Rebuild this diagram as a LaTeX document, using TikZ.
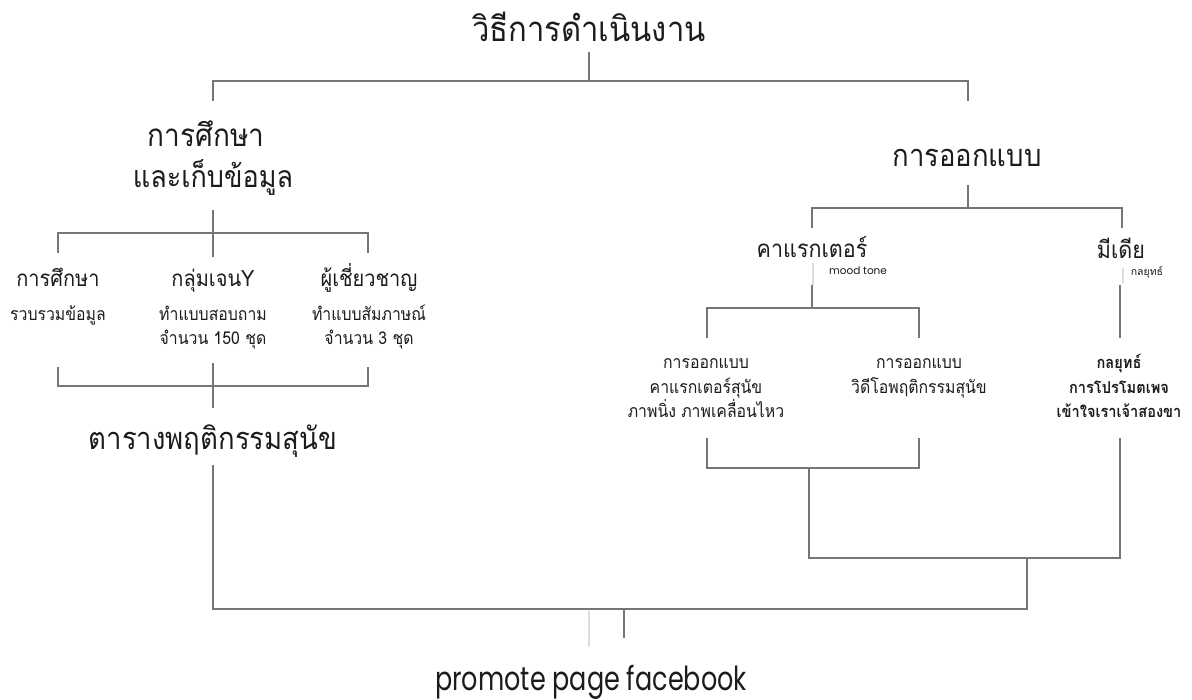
\documentclass[tikz,border=0pt]{standalone}
\usepackage{graphicx}
\usepackage{fontspec}
\newfontfamily\thai[Script=Thai]{Loma}
\newfontfamily\latin{Poppins}
\newcommand{\stT}[1]{\scalebox{1}[1.12]{#1}}
\newcommand{\stL}[1]{\scalebox{1}[1.3]{#1}}
\definecolor{txt}{HTML}{1C1C1C}
\definecolor{lnc}{HTML}{767676}
\definecolor{faintc}{HTML}{DCDCDC}
\tikzset{
  lbl/.style={inner sep=0pt, anchor=base, text=txt},
  fT/.style={lbl, font=\thai\fontsize{31}{36}\selectfont},
  fSa/.style={lbl, font=\thai\fontsize{28}{34}\selectfont},
  fSb/.style={lbl, font=\thai\fontsize{27}{32}\selectfont},
  fS/.style={lbl, font=\thai\fontsize{27.5}{32}\selectfont},
  fM/.style={lbl, font=\thai\fontsize{20}{24}\selectfont},
  fN/.style={lbl, font=\thai\fontsize{21.5}{25}\selectfont},
  fs/.style={lbl, font=\thai\fontsize{15.8}{19}\selectfont},
  fsb/.style={lbl, font=\thai\bfseries\fontsize{14.6}{17}\selectfont},
  ft/.style={lbl, font=\thai\fontsize{10.5}{12}\selectfont},
  fl/.style={lbl, font=\latin\fontsize{25.5}{30}\selectfont},
  flt/.style={lbl, font=\latin\fontsize{10.5}{12}\selectfont},
  ln/.style={draw=lnc, line width=1.1pt},
  faint/.style={draw=faintc, line width=1.1pt}
}
\begin{document}
\begin{tikzpicture}[x=1pt,y=-1pt]
\useasboundingbox[fill=white] (0,0) rectangle (1192,700);
% texts
\node[fT] (title) at (589,42) {\stT{วิธีการดำเนินงาน}};
\node[fSa] (s1a) at (206,147) {\stT{การศึกษา}};
\node[fSb] (s1b) at (213,188) {\stT{และเก็บข้อมูล}};
\node[fS] (s2) at (967,167) {\stT{การออกแบบ}};
\node[fM] (r1) at (58,287) {\stT{การศึกษา}};
\node[fM] (r2) at (213,287) {\stT{กลุ่มเจนY}};
\node[fM] (r3) at (369,287) {\stT{ผู้เชี่ยวชาญ}};
\node[fs] (r1b) at (58,321) {\stT{รวบรวมข้อมูล}};
\node[fs] (r2b) at (213,321) {\stT{ทำแบบสอบถาม}};
\node[fs] (r3b) at (369,321) {\stT{ทำแบบสัมภาษณ์}};
\node[fs] (r2c) at (213,345) {\stT{จำนวน 150 ชุด}};
\node[fs] (r3c) at (369,345) {\stT{จำนวน 3 ชุด}};
\node[fS] (tab) at (213,450) {\stT{ตารางพฤติกรรมสุนัข}};
\node[fN] (chr) at (812,258) {\stT{คาแรกเตอร์}};
\node[flt] (mood) at (858,275) {mood tone};
\node[fN] (med) at (1121,259) {\stT{มีเดีย}};
\node[ft] (strat) at (1147,276) {กลยุทธ์};
\node[fs] (d1a) at (706,369) {\stT{การออกแบบ}};
\node[fs] (d1b) at (706,394) {\stT{คาแรกเตอร์สุนัข}};
\node[fs] (d1c) at (706,418) {\stT{ภาพนิ่ง ภาพเคลื่อนไหว}};
\node[fs] (d2a) at (919,369) {\stT{การออกแบบ}};
\node[fs] (d2b) at (919,394) {\stT{วิดีโอพฤติกรรมสุนัข}};
\node[fsb] (d3a) at (1119,369) {\stT{กลยุทธ์}};
\node[fsb] (d3b) at (1119,394) {\stT{การโปรโมตเพจ}};
\node[fsb] (d3c) at (1119,418) {\stT{เข้าใจเราเจ้าสองขา}};
\node[fl] (prom) at (591,690) {\stL{promote page facebook}};
% junction coordinates
\coordinate (t0) at (589,52);
\coordinate (t1) at (589,81);
\coordinate (tL) at (213,81);
\coordinate (tR) at (968,81);
\coordinate (tLe) at (213,101);
\coordinate (tRe) at (968,101);
\coordinate (a0) at (213,210);
\coordinate (a1) at (213,257);
\coordinate (aL) at (58,233);
\coordinate (aR) at (368,233);
\coordinate (aLe) at (58,253);
\coordinate (aRe) at (368,253);
\coordinate (b0) at (213,363);
\coordinate (b1) at (213,408);
\coordinate (bL) at (58,367);
\coordinate (bR) at (368,367);
\coordinate (bLj) at (58,386);
\coordinate (bRj) at (368,386);
\coordinate (c0) at (213,465);
\coordinate (c1) at (213,609);
\coordinate (c2) at (1027,609);
\coordinate (c3) at (1027,558);
\coordinate (e0) at (968,185);
\coordinate (e1) at (968,208);
\coordinate (eL) at (812,208);
\coordinate (eR) at (1122,208);
\coordinate (eLe) at (812,228);
\coordinate (eRe) at (1122,228);
\coordinate (f0) at (813,263);
\coordinate (f1) at (813,285);
\coordinate (f2) at (812,285);
\coordinate (f3) at (812,308);
\coordinate (fL) at (707,308);
\coordinate (fR) at (919,308);
\coordinate (fLe) at (707,338);
\coordinate (fRe) at (919,338);
\coordinate (g0) at (1123,268);
\coordinate (g1) at (1123,283);
\coordinate (g2) at (1120,285);
\coordinate (g3) at (1120,338);
\coordinate (h0) at (707,438);
\coordinate (h1) at (707,468);
\coordinate (h2) at (919,468);
\coordinate (h3) at (919,438);
\coordinate (k0) at (809,468);
\coordinate (k1) at (809,558);
\coordinate (k2) at (1120,558);
\coordinate (k3) at (1120,438);
\coordinate (p0) at (589,611);
\coordinate (p1) at (589,647);
\coordinate (q0) at (624,609);
\coordinate (q1) at (624,638);
% connectors
\draw[ln] (t0) -- (t1);
\draw[ln] (tLe) -- (tL) -- (tR) -- (tRe);
\draw[ln] (a0) -- (a1);
\draw[ln] (aLe) -- (aL) -- (aR) -- (aRe);
\draw[ln] (b0) -- (b1);
\draw[ln] (bL) -- (bLj) -- (bRj) -- (bR);
\draw[ln] (c0) -- (c1) -- (c2) -- (c3);
\draw[ln] (e0) -- (e1);
\draw[ln] (eLe) -- (eL) -- (eR) -- (eRe);
\draw[faint] (f0) -- (f1);
\draw[ln] (f2) -- (f3);
\draw[ln] (fLe) -- (fL) -- (fR) -- (fRe);
\draw[faint] (g0) -- (g1);
\draw[ln] (g2) -- (g3);
\draw[ln] (h0) -- (h1) -- (h2) -- (h3);
\draw[ln] (k0) -- (k1) -- (k2) -- (k3);
\draw[faint] (p0) -- (p1);
\draw[ln] (q0) -- (q1);
\end{tikzpicture}
\end{document}
